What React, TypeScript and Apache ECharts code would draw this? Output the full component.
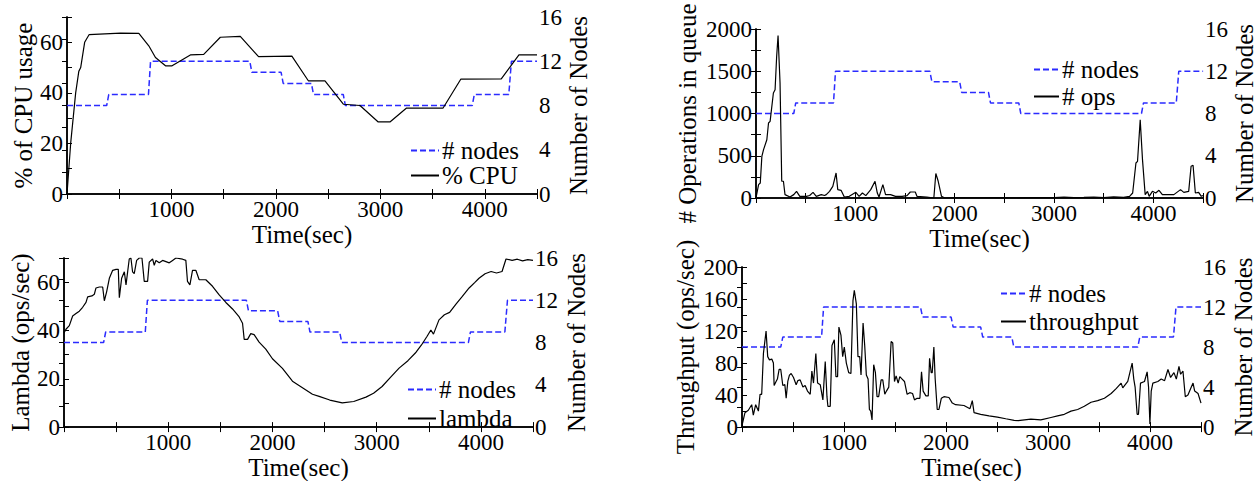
import React, { useEffect, useRef } from 'react';
import * as echarts from 'echarts';

// ---------- data ----------
const nodesTime = [0, 380, 400, 780, 800, 1750, 1770, 2050, 2070, 2340, 2360, 2645, 2665, 3880, 3900, 4230, 4255, 4500];
const nodesCount = [8, 8, 9, 9, 12, 12, 11, 11, 10, 10, 9, 9, 8, 8, 9, 9, 12, 12];

const cpuTime = [0, 35, 83, 113, 131, 169, 211, 513, 688, 783, 847, 943, 1006, 1181, 1309, 1468, 1659, 1834, 2153, 2312, 2470, 2646, 2805, 2980, 3092, 3251, 3601, 3770, 4158, 4327, 4500];
const cpuValue = [0, 20, 40, 48.5, 50, 60, 63, 63.6, 63.5, 58.6, 54, 50.7, 50.7, 55, 55.2, 62, 62.3, 54.3, 54.5, 44.7, 44.7, 35.5, 35, 28.5, 28.5, 34, 34, 45.4, 45.5, 55, 55];

const opsTime = [0, 26, 43, 59, 76, 109, 126, 142, 175, 192, 208, 222, 242, 259, 276, 292, 342, 380, 408, 441, 508, 540, 574, 607, 657, 690, 707, 740, 773, 806, 823, 856, 889, 939, 1005, 1038, 1071, 1105, 1155, 1198, 1221, 1238, 1277, 1304, 1354, 1404, 1470, 1520, 1553, 1603, 1620, 1719, 1790, 1810, 1834, 1867, 1900, 2000, 2200, 2400, 2600, 2800, 3000, 3100, 3200, 3300, 3400, 3500, 3600, 3700, 3760, 3791, 3824, 3840, 3867, 3890, 3917, 3940, 3957, 3990, 4023, 4056, 4090, 4156, 4206, 4273, 4306, 4355, 4379, 4399, 4422, 4455, 4482, 4500];
const opsValue = [0, 158, 178, 493, 572, 690, 888, 907, 1243, 1282, 1677, 1922, 1361, 198, 198, 40, 12, 40, 79, 20, 20, 30, 67, 20, 40, 30, 40, 79, 138, 296, 99, 91, 12, 20, 67, 20, 59, 28, 99, 198, 59, 12, 158, 40, 40, 20, 20, 28, 71, 71, 20, 12, 0, 290, 198, 20, 0, 5, 3, 5, 2, 6, 4, 10, 5, 8, 12, 6, 14, 8, 20, 59, 414, 434, 927, 454, 40, 79, 20, 79, 59, 91, 40, 40, 40, 99, 67, 79, 375, 387, 59, 67, 20, 30];

const lambdaTime = [0, 19, 51, 83, 115, 147, 179, 211, 227, 268, 291, 307, 339, 371, 387, 409, 435, 467, 499, 521, 531, 553, 579, 595, 626, 642, 658, 674, 697, 722, 748, 770, 802, 818, 850, 866, 882, 914, 946, 978, 1010, 1042, 1074, 1138, 1169, 1185, 1208, 1233, 1265, 1297, 1361, 1425, 1489, 1553, 1617, 1681, 1713, 1729, 1761, 1792, 1824, 1872, 1936, 2000, 2096, 2192, 2288, 2384, 2448, 2550, 2670, 2780, 2897, 2970, 3052, 3130, 3215, 3300, 3378, 3430, 3484, 3520, 3545, 3598, 3650, 3700, 3761, 3820, 3887, 3940, 3982, 4040, 4098, 4150, 4203, 4241, 4300, 4350, 4400, 4450, 4500];
const lambdaValue = [39, 40.5, 42, 46, 47, 48, 49.6, 51.6, 53.9, 54.3, 55, 57.6, 58, 58, 52.3, 56, 61.6, 64.9, 65.3, 65.3, 53.6, 61.6, 64.3, 58.9, 69.6, 70, 64.3, 63.5, 69, 70, 70, 60.3, 60.3, 68.3, 69.6, 67, 69, 68, 69, 68.5, 68, 69, 70, 69.5, 69, 60.3, 58.9, 64.9, 64.9, 61, 61, 58.3, 54.7, 51.6, 48.9, 45.6, 43, 36.3, 36.3, 38.7, 38.3, 35.2, 32.3, 28.3, 24.3, 19, 16.3, 13.6, 12.7, 11.2, 10, 10.6, 12.4, 14, 16.8, 20.5, 24.4, 27.5, 31, 34, 37.6, 40.2, 38.5, 44.4, 46.5, 47.5, 50.9, 54, 57.6, 59.8, 61.6, 63.5, 64.4, 63.8, 64.4, 69.6, 69, 69.5, 68.8, 69.3, 69];

const thrTime = [0, 29, 62, 95, 111, 134, 161, 177, 193, 210, 236, 252, 269, 292, 308, 315, 334, 347, 364, 380, 400, 420, 433, 449, 465, 482, 505, 531, 547, 570, 597, 619, 642, 669, 685, 701, 724, 741, 767, 793, 816, 833, 842, 865, 882, 905, 921, 937, 950, 970, 987, 1003, 1023, 1046, 1068, 1088, 1101, 1121, 1137, 1154, 1167, 1187, 1203, 1219, 1236, 1249, 1262, 1275, 1291, 1308, 1324, 1340, 1364, 1380, 1400, 1416, 1439, 1462, 1478, 1495, 1511, 1531, 1547, 1570, 1593, 1619, 1645, 1672, 1691, 1717, 1744, 1760, 1776, 1803, 1826, 1839, 1855, 1865, 1881, 1894, 1914, 1931, 1954, 1980, 2029, 2062, 2094, 2176, 2235, 2258, 2275, 2340, 2422, 2504, 2586, 2668, 2707, 2832, 2930, 3029, 3094, 3160, 3225, 3291, 3356, 3422, 3487, 3553, 3619, 3668, 3717, 3733, 3782, 3825, 3841, 3854, 3874, 3887, 3907, 3946, 3972, 3986, 3999, 4012, 4028, 4077, 4110, 4143, 4176, 4202, 4235, 4258, 4284, 4300, 4323, 4346, 4372, 4405, 4422, 4438, 4471, 4500];
const thrValue = [2, 18, 21, 28, 15, 28, 20, 41, 41, 92, 120, 88, 84, 85, 80, 52, 57, 60, 72, 72, 52, 53, 36, 57, 65, 67, 62, 53, 58, 59, 50, 52, 45, 41, 70, 55, 92, 55, 53, 34, 82, 38, 26, 26, 102, 109, 63, 63, 125, 115, 88, 100, 80, 68, 67, 158, 171, 154, 88, 88, 65, 130, 102, 65, 60, 22, 20, 9, 78, 68, 38, 38, 59, 59, 41, 45, 50, 107, 105, 57, 64, 55, 63, 60, 57, 41, 43, 42, 34, 36, 36, 69, 45, 39, 39, 86, 68, 68, 100, 60, 22, 22, 36, 38, 37, 30, 28, 27, 23, 33, 18, 16, 14, 12.5, 10.4, 8.5, 8, 10, 9, 12, 14, 16, 20, 22, 26, 31, 33, 36, 42, 48, 55, 49, 57, 80, 60, 50, 16, 16, 55, 57, 69, 50, 4, 45, 55, 57, 60, 58, 72, 62, 68, 60, 76, 66, 70, 38, 40, 50, 55, 45, 42, 30];

// tick labels
const timeLabels = [1000, 2000, 3000, 4000];
const nodeLabels = [0, 4, 8, 12, 16];
const cpuLabels = [0, 20, 40, 60];
const opsLabels = [0, 500, 1000, 1500, 2000];
const lambdaLabels = [0, 20, 40, 60];
const thrLabels = [0, 40, 80, 120, 160, 200];

// ---------- styling ----------
const FONT = 'Liberation Serif';
const BLUE = '#2b2bff';
const TICK_SIZE = 23;
const NAME_SIZE = 25;

const zip = (a: number[], b: number[]) => a.map((t, i) => [t, b[i]]);
const only = (list: number[]) => (v: number) => (list.includes(v) ? String(v) : '');

type Panel = {
  grid: { left: number; top: number; width: number; height: number };
  leftMax: number;
  leftInterval: number;
  leftLabels: number[];
  leftName: string;
  leftGap: number;
  rightGap: number;
  xGap: number;
  mainName: string;
  mainTime: number[];
  mainValue: number[];
  legend: { left: number; top: number; gap: number; width: number };
};

const panels: Panel[] = [
  {
    grid: { left: 67, top: 17, width: 470, height: 177 },
    leftMax: 70, leftInterval: 10, leftLabels: cpuLabels, leftName: '% of CPU usage',
    leftGap: 30, rightGap: 29, xGap: 22,
    mainName: '% CPU', mainTime: cpuTime, mainValue: cpuValue,
    legend: { left: 410, top: 138, gap: 0, width: 28 },
  },
  {
    grid: { left: 756, top: 29, width: 449, height: 169 },
    leftMax: 2000, leftInterval: 250, leftLabels: opsLabels, leftName: '# Operations in queue',
    leftGap: 56, rightGap: 26, xGap: 15,
    mainName: '# ops', mainTime: opsTime, mainValue: opsValue,
    legend: { left: 1033, top: 57, gap: 2, width: 25 },
  },
  {
    grid: { left: 64, top: 258, width: 469, height: 176 },
    leftMax: 70, leftInterval: 10, leftLabels: lambdaLabels, leftName: 'Lambda (ops/sec)',
    leftGap: 31, rightGap: 31, xGap: 22,
    mainName: 'lambda', mainTime: lambdaTime, mainValue: lambdaValue,
    legend: { left: 407, top: 377, gap: 4, width: 28 },
  },
  {
    grid: { left: 742, top: 267, width: 459, height: 172 },
    leftMax: 200, leftInterval: 20, leftLabels: thrLabels, leftName: 'Throughput (ops/sec)',
    leftGap: 44, rightGap: 30, xGap: 14,
    mainName: 'throughput', mainTime: thrTime, mainValue: thrValue,
    legend: { left: 1000, top: 281, gap: 3, width: 25 },
  },
];

const axisLine = { show: true, lineStyle: { color: '#000', width: 1.5 } };
const tick = { show: true, inside: true, length: 5, lineStyle: { color: '#000', width: 1 } };
const labelStyle = { fontFamily: FONT, fontSize: TICK_SIZE, color: '#000' };
const nameStyle = { fontFamily: FONT, fontSize: NAME_SIZE, color: '#000' };

function buildOption() {
  const grid: any[] = [];
  const xAxis: any[] = [];
  const yAxis: any[] = [];
  const series: any[] = [];
  const legend: any[] = [];
  panels.forEach((p, g) => {
    grid.push({ ...p.grid, containLabel: false });
    xAxis.push({
      type: 'value', gridIndex: g, position: 'bottom', min: 0, max: 4500, interval: 500,
      axisLine, axisTick: tick, splitLine: { show: false },
      axisLabel: { ...labelStyle, margin: 4, formatter: only(timeLabels), showMinLabel: true, showMaxLabel: true },
      name: 'Time(sec)', nameLocation: 'middle', nameGap: p.xGap, nameTextStyle: nameStyle,
    });
    xAxis.push({
      type: 'value', gridIndex: g, position: 'top', min: 0, max: 4500, interval: 500,
      axisLine, axisTick: tick, splitLine: { show: false }, axisLabel: { show: false },
    });
    yAxis.push({
      type: 'value', gridIndex: g, position: 'left', min: 0, max: p.leftMax, interval: p.leftInterval,
      axisLine, axisTick: tick, splitLine: { show: false },
      axisLabel: { ...labelStyle, margin: 4, formatter: only(p.leftLabels) },
      name: p.leftName, nameLocation: 'middle', nameRotate: 90, nameGap: p.leftGap, nameTextStyle: nameStyle,
    });
    yAxis.push({
      type: 'value', gridIndex: g, position: 'right', min: 0, max: 16, interval: 2,
      axisLine, axisTick: tick, splitLine: { show: false },
      axisLabel: { ...labelStyle, margin: 2, formatter: only(nodeLabels) },
      name: 'Number of Nodes', nameLocation: 'middle', nameRotate: 90, nameGap: p.rightGap, nameTextStyle: nameStyle,
    });
    series.push({
      name: '# nodes', type: 'line', xAxisIndex: 2 * g, yAxisIndex: 2 * g + 1,
      data: zip(nodesTime, nodesCount), symbol: 'none', showSymbol: false,
      lineStyle: { color: BLUE, width: 1.5, type: [6, 3] }, itemStyle: { color: BLUE },
    });
    series.push({
      name: p.mainName, type: 'line', xAxisIndex: 2 * g, yAxisIndex: 2 * g,
      data: zip(p.mainTime, p.mainValue), symbol: 'none', showSymbol: false, clip: true,
      lineStyle: { color: '#000', width: 1.2 }, itemStyle: { color: '#000' },
    });
    legend.push({
      data: ['# nodes', p.mainName], orient: 'vertical', left: p.legend.left, top: p.legend.top,
      padding: 0, itemGap: p.legend.gap, itemWidth: p.legend.width, itemHeight: 12,
      itemStyle: { opacity: 0 },
      textStyle: { fontFamily: FONT, fontSize: NAME_SIZE, color: '#000', lineHeight: 22, padding: [0, 0, 0, -2] },
      selectedMode: false,
    });
  });
  return { animation: false, backgroundColor: '#fff', grid, xAxis, yAxis, series, legend };
}

export default function App() {
  const ref = useRef<HTMLDivElement>(null);
  useEffect(() => {
    if (!ref.current) return;
    const chart = echarts.init(ref.current, undefined, { renderer: 'svg' });
    chart.setOption(buildOption() as any);
    return () => chart.dispose();
  }, []);
  return (
    <div
      ref={ref}
      style={{ position: 'fixed', left: 0, top: 0, width: 1258, height: 481, background: '#fff' }}
    />
  );
}
